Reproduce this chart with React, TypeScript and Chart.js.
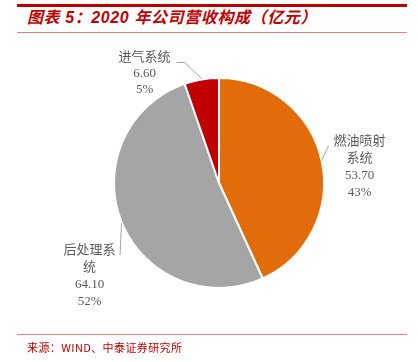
import React, { useEffect, useRef } from "react";
import { Chart, registerables } from "chart.js";

Chart.register(...registerables);

const categories = ["燃油喷射系统", "后处理系统", "进气系统"];
const values = [53.7, 64.1, 6.6];
const labelLines = [
  ["燃油喷射", "系统", "53.70", "43%"],
  ["后处理系", "统", "64.10", "52%"],
  ["进气系统", "6.60", "5%"],
];
const colors = ["#E36C0A", "#A5A5A5", "#C00000"];

// label layout: leader line points and text block centre, as offsets from the slice's outer-edge midpoint
const labelLayout = [
  { line: [[0, 0], [7, -15]], text: [38, -19], gap: 17 },
  { line: [[0, 1], [-1.5, 33]], text: [-32, 29], gap: 17 },
  { line: [[0, -1], [-17, -17], [-25, -17]], text: [-57, -22], gap: 16 },
];

const labelPlugin = {
  id: "pieLabels",
  afterDraw(chart: any) {
    const ctx = chart.ctx;
    const meta = chart.getDatasetMeta(0);
    ctx.save();
    meta.data.forEach((arc: any, i: number) => {
      const p = arc.getProps(["x", "y", "startAngle", "endAngle", "outerRadius"], true);
      const mid = (p.startAngle + p.endAngle) / 2;
      const ex = p.x + Math.cos(mid) * p.outerRadius;
      const ey = p.y + Math.sin(mid) * p.outerRadius;
      const lay = labelLayout[i];
      ctx.strokeStyle = "#A6A6A6";
      ctx.lineWidth = 1;
      ctx.beginPath();
      lay.line.forEach((pt: number[], k: number) => {
        if (k === 0) ctx.moveTo(ex + pt[0], ey + pt[1]);
        else ctx.lineTo(ex + pt[0], ey + pt[1]);
      });
      ctx.stroke();
      ctx.fillStyle = "#595959";
      ctx.font = '13px "Liberation Serif", "Noto Sans CJK SC", serif';
      ctx.textAlign = "center";
      ctx.textBaseline = "middle";
      const tx = ex + lay.text[0];
      const ty = ey + lay.text[1];
      labelLines[i].forEach((s, k) => {
        ctx.fillText(s, tx, ty + k * lay.gap);
      });
    });
    ctx.restore();
  },
};

export default function App() {
  const ref = useRef<HTMLCanvasElement>(null);
  useEffect(() => {
    const chart = new Chart(ref.current!, {
      type: "pie",
      data: {
        labels: categories,
        datasets: [
          {
            data: values,
            backgroundColor: colors,
            borderColor: "#FFFFFF",
            borderWidth: 2,
          },
        ],
      },
      options: {
        animation: false,
        responsive: false,
        maintainAspectRatio: false,
        layout: { padding: { left: 113, right: 93, top: 77, bottom: 73 } },
        plugins: {
          legend: { display: false },
          tooltip: { enabled: false },
        },
      },
      plugins: [labelPlugin],
    });
    return () => chart.destroy();
  }, []);

  return (
    <div style={{ position: "absolute", left: 0, top: 0, width: 418, height: 362, background: "#fff" }}>
      <div style={{ position: "absolute", left: 17, top: 4, width: 390, height: 3, background: "#C00000" }} />
      <div
        style={{
          position: "absolute",
          left: 27,
          top: 8,
          fontFamily: '"Liberation Sans", "Noto Sans CJK SC", sans-serif',
          fontWeight: "bold",
          fontStyle: "italic",
          fontSize: 16,
          lineHeight: "20px",
          letterSpacing: "0.6px",
          color: "#C00000",
          whiteSpace: "nowrap",
        }}
      >
        图表 5：2020 年公司营收构成（亿元）
      </div>
      <div style={{ position: "absolute", left: 17, top: 32, width: 390, height: 1, background: "#E68080" }} />
      <canvas ref={ref} width={418} height={362} style={{ position: "absolute", left: 0, top: 0 }} />
      <div style={{ position: "absolute", left: 17, top: 334, width: 390, height: 1, background: "#E68080" }} />
      <div
        style={{
          position: "absolute",
          left: 27,
          top: 339,
          fontFamily: '"Noto Sans CJK SC", sans-serif',
          fontSize: 11,
          lineHeight: "16px",
          letterSpacing: "0.4px",
          color: "#C00000",
          whiteSpace: "nowrap",
        }}
      >
        来源：WIND、中泰证券研究所
      </div>
    </div>
  );
}
